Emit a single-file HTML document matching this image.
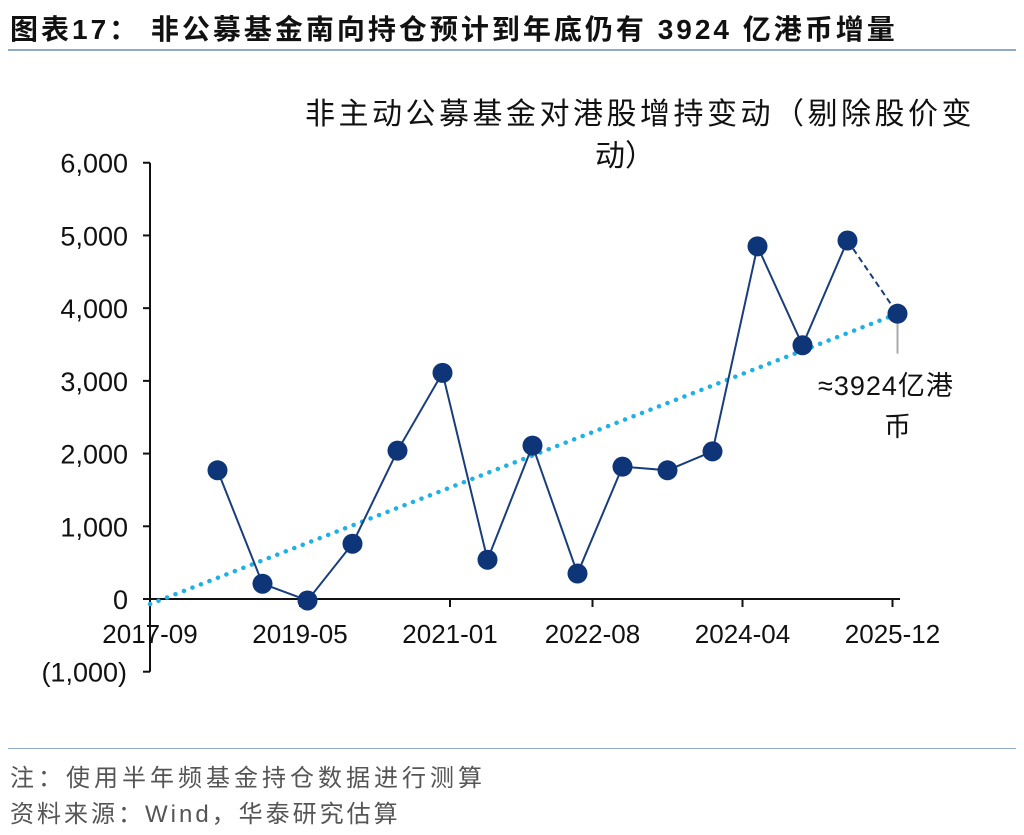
<!DOCTYPE html>
<html><head><meta charset="utf-8">
<style>
body{margin:0;background:#fff;font-family:"Liberation Sans","Noto Sans CJK SC",sans-serif;}
#wrap{position:relative;width:1024px;height:835px;overflow:hidden;}
.t{position:absolute;white-space:nowrap;}
</style></head>
<body>
<div id="wrap">
<div class="t" style="left:10px;top:8px;font-size:28px;font-weight:bold;color:#111;letter-spacing:3px;">图表17：  非公募基金南向持仓预计到年底仍有 3924 亿港币增量</div>
<div style="position:absolute;left:8px;top:49px;width:1008px;height:2px;background:#8fa9c8;"></div>
<svg id="chart" width="1024" height="835" style="position:absolute;left:0;top:0">
<text x="640" y="124" font-size="30" text-anchor="middle" fill="#111" font-family="Liberation Sans,Noto Sans CJK SC,sans-serif" letter-spacing="3.5">非主动公募基金对港股增持变动（剔除股价变</text>
<text x="625" y="166" font-size="30" text-anchor="middle" fill="#111" font-family="Liberation Sans,Noto Sans CJK SC,sans-serif">动）</text>
<g id="axes"></g><g id="marks"></g>
<text x="818" y="395" font-size="27" fill="#111" font-family="Liberation Sans,Noto Sans CJK SC,sans-serif" letter-spacing="1">≈3924亿港</text>
<text x="884" y="436" font-size="27" fill="#111" font-family="Liberation Sans,Noto Sans CJK SC,sans-serif">币</text>
</svg>
<div style="position:absolute;left:8px;top:748px;width:1008px;height:1px;background:#8fa9c8;"></div>
<div class="t" style="left:10px;top:758px;font-size:24px;color:#555;letter-spacing:4px;">注：使用半年频基金持仓数据进行测算</div>
<div class="t" style="left:10px;top:794px;font-size:24px;color:#555;letter-spacing:3px;">资料来源：Wind，华泰研究估算</div>
</div>
<script>
const categories=["2018-06","2018-12","2019-06","2019-12","2020-06","2020-12","2021-06","2021-12","2022-06","2022-12","2023-06","2023-12","2024-06","2024-12","2025-06","2025-12"];
const values=[1770,210,-20,760,2040,3110,540,2110,350,1820,1770,2030,4850,3490,4930,3924];
const yTicks=[-1000,0,1000,2000,3000,4000,5000,6000];
const xTickLabels=["2017-09","2019-05","2021-01","2022-08","2024-04","2025-12"];
const trendStart=["2017-09",-70];
const trendEnd=["2025-12",3924];
const NS="http://www.w3.org/2000/svg";
function mon(s){const [y,m]=s.split("-").map(Number);return (y-2017)*12+(m-9);}
function X(s){return 150+mon(s)*7.5;}
function Y(v){return 599-v*0.07271;}
function mk(tag,attrs,parent){const e=document.createElementNS(NS,tag);for(const k in attrs)e.setAttribute(k,attrs[k]);parent.appendChild(e);return e;}
function fmt(v){const s=Math.abs(v).toLocaleString("en-US");return v<0?"("+s+")":s;}
const ax=document.getElementById("axes"),mg=document.getElementById("marks");
let a=mk("line",{x1:150,y1:Y(6000),x2:150,y2:Y(-1000),stroke:"#111","stroke-width":2},ax);


yTicks.forEach(v=>{
 const l=mk("line",{x1:143,x2:150,y1:Y(v),y2:Y(v),stroke:"#111","stroke-width":2},ax);
 
 
 const t=mk("text",{x:v<0?127:128,y:Y(v)+10,"text-anchor":"end","font-size":27,fill:"#111","font-family":"Liberation Sans,sans-serif"},ax);
 t.textContent=fmt(v);
 
 
});
a=mk("line",{x1:150,y1:Y(0),x2:900,y2:Y(0),stroke:"#111","stroke-width":2},ax);


xTickLabels.forEach(s=>{
 const l=mk("line",{x1:X(s),x2:X(s),y1:Y(0),y2:Y(0)+8,stroke:"#111","stroke-width":2},ax);
 
 
 const t=mk("text",{x:X(s),y:Y(0)+44,"text-anchor":"middle","font-size":26,fill:"#111","font-family":"Liberation Sans,sans-serif"},ax);
 t.textContent=s;
 
 
});
const tr=mk("line",{x1:X(trendStart[0]),y1:Y(trendStart[1]),x2:X(trendEnd[0])+5,y2:Y(trendEnd[1]),stroke:"#1fb0e8","stroke-width":4.5,"stroke-dasharray":"0.1 9","stroke-linecap":"round"},mg);


const n=values.length;
let d="";for(let i=0;i<n-1;i++)d+=(i?"L":"M")+X(categories[i])+","+Y(values[i]);
const ln=mk("path",{d:d,fill:"none",stroke:"#1a3d7c","stroke-width":2},mg);


const dl=mk("line",{x1:X(categories[n-2]),y1:Y(values[n-2]),x2:X(categories[n-1])+5,y2:Y(values[n-1]),stroke:"#1a3d7c","stroke-width":2,"stroke-dasharray":"6 4"},mg);


const ll=mk("line",{x1:X(categories[n-1])+5,y1:Y(values[n-1]),x2:X(categories[n-1])+5,y2:Y(values[n-1])+40,stroke:"#aaa","stroke-width":2},mg);


values.forEach((v,i)=>{
 const c=mk("circle",{cx:X(categories[i])+(i==n-1?5:0),cy:Y(v),r:10,fill:"#0d3577"},mg);
 
 
});
</script>
</body></html>
